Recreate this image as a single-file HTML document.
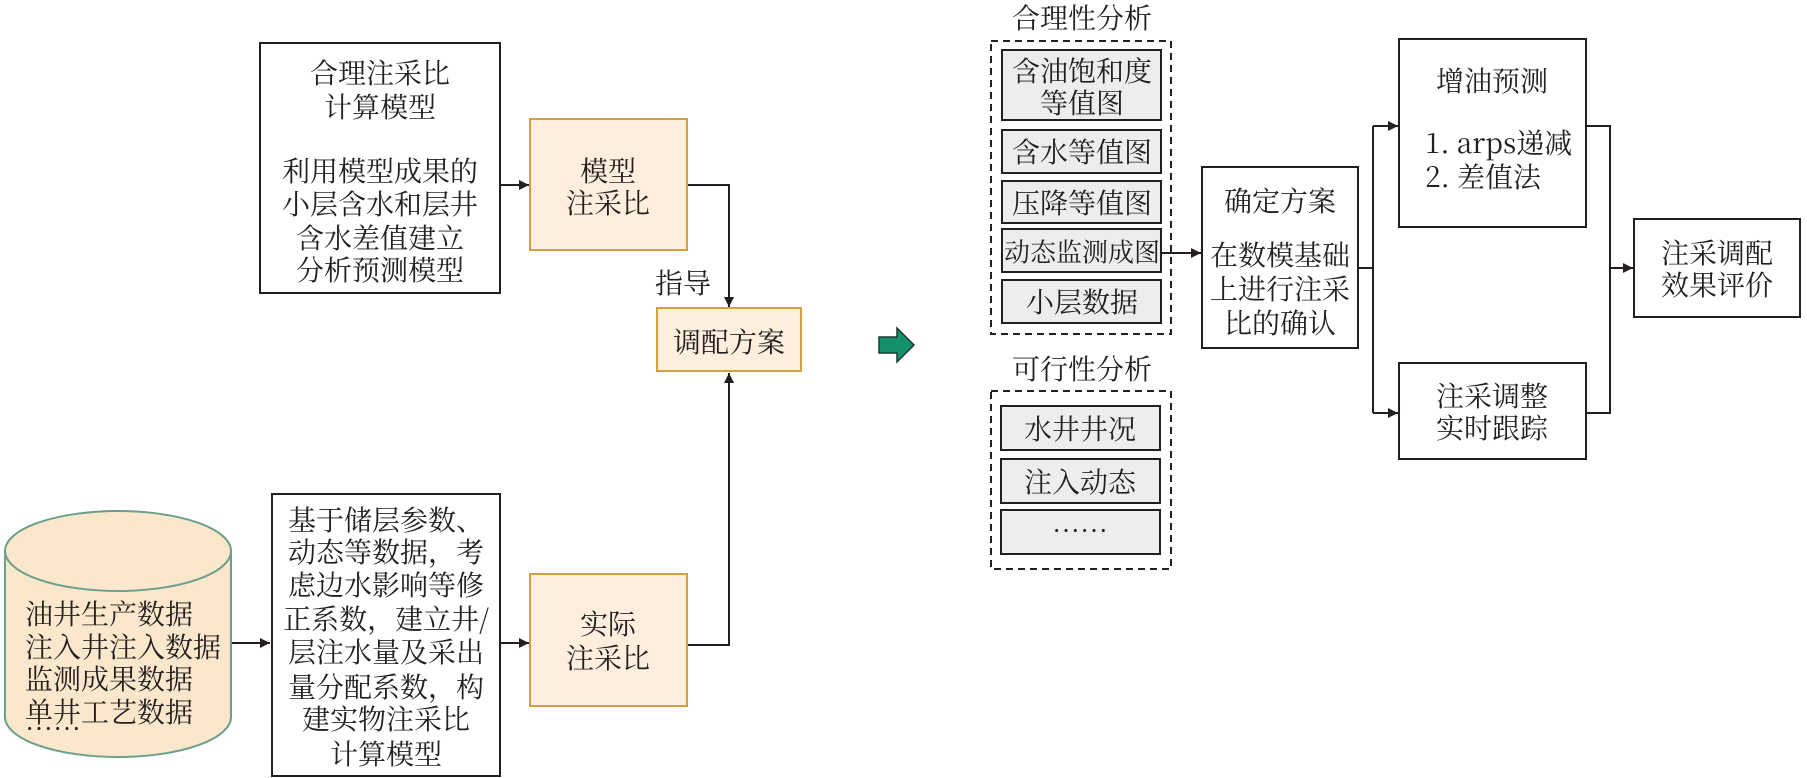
<!DOCTYPE html>
<html><head><meta charset="utf-8"><style>
html,body{margin:0;padding:0;background:#fff;}
svg{display:block;}
text{font-family:"Noto Serif CJK SC","Liberation Serif",serif;font-size:28px;fill:#231f20;text-anchor:middle;dominant-baseline:central;}
</style></head><body>
<svg width="1807" height="778" viewBox="0 0 1807 778" xmlns="http://www.w3.org/2000/svg">
<defs>
<marker id="a" viewBox="0 0 10 10" refX="10" refY="5" markerWidth="16" markerHeight="10" orient="auto" markerUnits="userSpaceOnUse"><path d="M0,0 L10,5 L0,10 z" fill="#231f20"/></marker>
</defs>
<g stroke="#231f20" stroke-width="2" fill="none">
<rect x="260" y="43" width="240" height="250"/>
<rect x="272" y="494" width="228" height="282"/>
<line x1="500" y1="185" x2="529" y2="185" marker-end="url(#a)"/>
<line x1="231" y1="643" x2="270" y2="643" marker-end="url(#a)"/>
<line x1="500" y1="643" x2="529" y2="643" marker-end="url(#a)"/>
<polyline points="687,185 729,185 729,307" marker-end="url(#a)"/>
<polyline points="687,645 729,645 729,373" marker-end="url(#a)"/>
</g>
<g stroke="#d4a040" stroke-width="2" fill="#fdeedd">
<rect x="530" y="119" width="157" height="131"/>
<rect x="657" y="308" width="144" height="63"/>
<rect x="530" y="574" width="157" height="132"/>
</g>
<g stroke="#6aa08a" stroke-width="2" fill="#fbe8cc">
<path d="M5,551 L5,717 A113,40 0 0 0 231,717 L231,551"/>
<ellipse cx="118" cy="551" rx="113" ry="40"/>
</g>
<text x="380" y="72">合理注采比</text>
<text x="380" y="106">计算模型</text>
<text x="380" y="170">利用模型成果的</text>
<text x="380" y="203">小层含水和层井</text>
<text x="380" y="237">含水差值建立</text>
<text x="380" y="269">分析预测模型</text>
<text x="608" y="170">模型</text>
<text x="608" y="202">注采比</text>
<text x="683" y="282">指导</text>
<text x="729" y="341">调配方案</text>
<text x="608" y="623">实际</text>
<text x="608" y="657">注采比</text>
<text x="25" y="613" style="text-anchor:start">油井生产数据</text>
<text x="25" y="646" style="text-anchor:start">注入井注入数据</text>
<text x="25" y="678" style="text-anchor:start">监测成果数据</text>
<text x="25" y="711" style="text-anchor:start">单井工艺数据</text>
<text x="25" y="728" style="text-anchor:start">……</text>
<text x="386" y="519">基于储层参数、</text>
<text x="386" y="551">动态等数据，考</text>
<text x="386" y="584">虑边水影响等修</text>
<text x="386" y="618">正系数，建立井/</text>
<text x="386" y="651">层注水量及采出</text>
<text x="386" y="686">量分配系数，构</text>
<text x="386" y="718">建实物注采比</text>
<text x="386" y="753">计算模型</text>
<path d="M879,337 L897,337 L897,328 L914,345 L897,362 L897,353 L879,353 z" fill="#12906a" stroke="#1a3a30" stroke-width="1.5"/>
<g stroke="#231f20" stroke-width="2" fill="none" stroke-dasharray="7,5">
<rect x="991" y="41" width="180" height="293"/>
<rect x="991" y="391" width="180" height="178"/>
</g>
<g stroke="#231f20" stroke-width="2" fill="#ededed">
<rect x="1002" y="50" width="159" height="70"/>
<rect x="1002" y="130" width="159" height="43"/>
<rect x="1002" y="181" width="159" height="42"/>
<rect x="1002" y="229" width="159" height="43"/>
<rect x="1002" y="280" width="159" height="43"/>
<rect x="1001" y="406" width="159" height="44"/>
<rect x="1001" y="459" width="159" height="44"/>
<rect x="1001" y="510" width="159" height="44"/>
</g>
<rect x="1004" y="8" width="156" height="22" fill="#fff"/>
<text x="1082" y="17">合理性分析</text>
<text x="1082" y="368">可行性分析</text>
<text x="1082" y="70">含油饱和度</text>
<text x="1082" y="102">等值图</text>
<text x="1082" y="151">含水等值图</text>
<text x="1082" y="202">压降等值图</text>
<text x="1082" y="251" style="font-size:26px">动态监测成图</text>
<text x="1082" y="301">小层数据</text>
<text x="1080" y="428">水井井况</text>
<text x="1080" y="481">注入动态</text>
<text x="1080" y="530">……</text>
<g stroke="#231f20" stroke-width="2" fill="none">
<rect x="1202" y="167" width="156" height="181"/>
<rect x="1399" y="39" width="187" height="188"/>
<rect x="1399" y="363" width="187" height="96"/>
<rect x="1634" y="219" width="166" height="98"/>
<line x1="1161" y1="253" x2="1201" y2="253" marker-end="url(#a)"/>
<line x1="1358" y1="268" x2="1373" y2="268"/>
<polyline points="1373,126 1373,413"/>
<line x1="1373" y1="126" x2="1398" y2="126" marker-end="url(#a)"/>
<line x1="1373" y1="413" x2="1398" y2="413" marker-end="url(#a)"/>
<polyline points="1586,126 1610,126 1610,413 1586,413"/>
<line x1="1610" y1="268" x2="1633" y2="268" marker-end="url(#a)"/>
</g>
<text x="1280" y="200">确定方案</text>
<text x="1280" y="254">在数模基础</text>
<text x="1280" y="288">上进行注采</text>
<text x="1280" y="322">比的确认</text>
<text x="1492" y="80">增油预测</text>
<text x="1425" y="142" style="text-anchor:start">1. arps递减</text>
<text x="1425" y="176" style="text-anchor:start">2. 差值法</text>
<text x="1492" y="395">注采调整</text>
<text x="1492" y="427">实时跟踪</text>
<text x="1717" y="252">注采调配</text>
<text x="1717" y="284">效果评价</text>
</svg>
</body></html>
